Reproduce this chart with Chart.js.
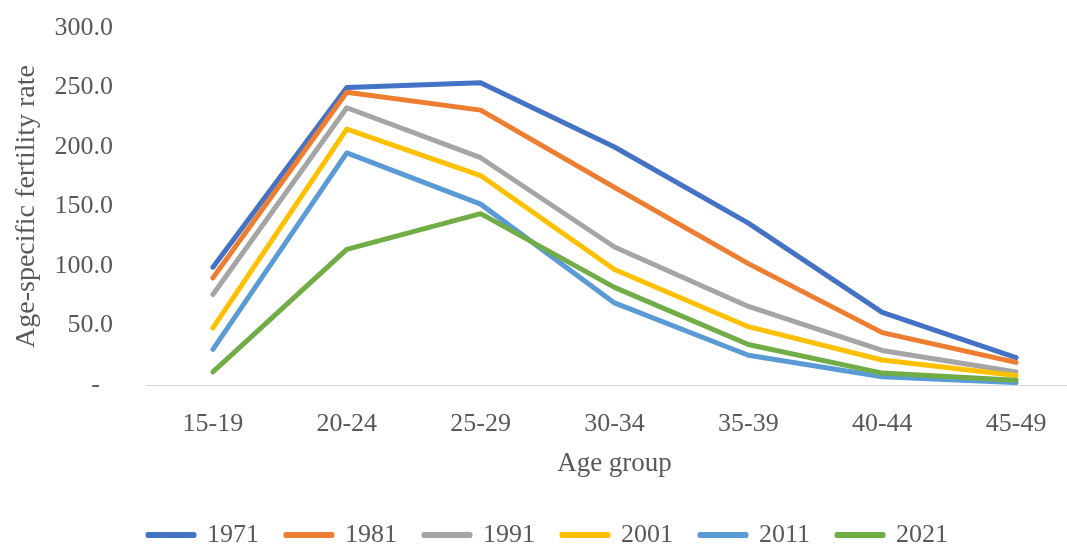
<!DOCTYPE html>
<html>
<head>
<meta charset="utf-8">
<script src="https://cdn.jsdelivr.net/npm/chart.js@4"></script>
<style>
  html, body { margin: 0; padding: 0; overflow: hidden; background: #fff; }
  #wrap { width: 1090px; height: 558px; }
</style>
</head>
<body>
<div id="wrap"><canvas id="myChart" width="1090" height="558"></canvas></div>
<script>
const ageGroups = ["15-19", "20-24", "25-29", "30-34", "35-39", "40-44", "45-49"];
const years = ["1971", "1981", "1991", "2001", "2011", "2021"];
const rate1971 = [99, 250, 254, 200, 136, 61, 23];
const rate1981 = [90, 246, 231, 166, 102, 44, 19];
const rate1991 = [76, 233, 191, 116, 66, 29, 11];
const rate2001 = [48, 215, 176, 97, 49, 21, 8];
const rate2011 = [30, 195, 152, 69, 25, 7, 2];
const rate2021 = [11, 114, 144, 82, 34, 10, 4];
const colors = ["#4472C4", "#ED7D31", "#A5A5A5", "#FFC000", "#5B9BD5", "#70AD47"];

const allRates = [rate1971, rate1981, rate1991, rate2001, rate2011, rate2021];
const textColor = "#595959";
const serif = "'Liberation Serif', 'Times New Roman', serif";

const datasets = years.map(function(y, i){
	return {
		label: y,
		data: allRates[i],
		borderColor: colors[i],
		backgroundColor: colors[i],
		borderWidth: 5,
		pointRadius: 0,
		tension: 0,
		borderCapStyle: "round",
		borderJoinStyle: "round",
		order: years.length - i
	};
});

new Chart("myChart", {
	type: "line",
	data: { labels: ageGroups, datasets: datasets },
	options: {
		responsive: false,
		animation: false,
		layout: { padding: { left: 13, right: 7, top: 28, bottom: 0 } },
		plugins: {
			tooltip: { enabled: false },
			legend: {
				position: "bottom",
				labels: {
					color: textColor,
					font: { family: serif, size: 26 },
					boxWidth: 46,
					boxHeight: 1,
					padding: 27,
					sort: function(a, b){ return a.datasetIndex - b.datasetIndex; }
				}
			}
		},
		scales: {
			x: {
				offset: true,
				grid: { display: false, drawTicks: false },
				border: { display: true, color: "#d9d9d9", width: 1 },
				ticks: { color: textColor, font: { family: serif, size: 26 }, padding: 24 },
				title: {
					display: true, text: "Age group", color: textColor,
					font: { family: serif, size: 27 }, padding: { top: 0, bottom: 15 }
				},
				afterFit: function(s){ s.height = 110; }
			},
			y: {
				min: 0, max: 300,
				grid: { display: false, drawTicks: false },
				border: { display: false },
				ticks: {
					stepSize: 50, color: textColor, padding: 33,
					font: { family: serif, size: 26 },
					callback: function(v){ return v === 0 ? "-  " : v.toFixed(1); }
				},
				title: {
					display: true, text: "Age-specific fertility rate", color: textColor,
					font: { family: serif, size: 28 }, padding: { top: -3, bottom: 0 }
				},
				afterFit: function(s){
					s.width = 133;
					s.paddingTop = 0;
					s.paddingBottom = 0;
				}
			}
		}
	}
});
</script>
</body>
</html>
